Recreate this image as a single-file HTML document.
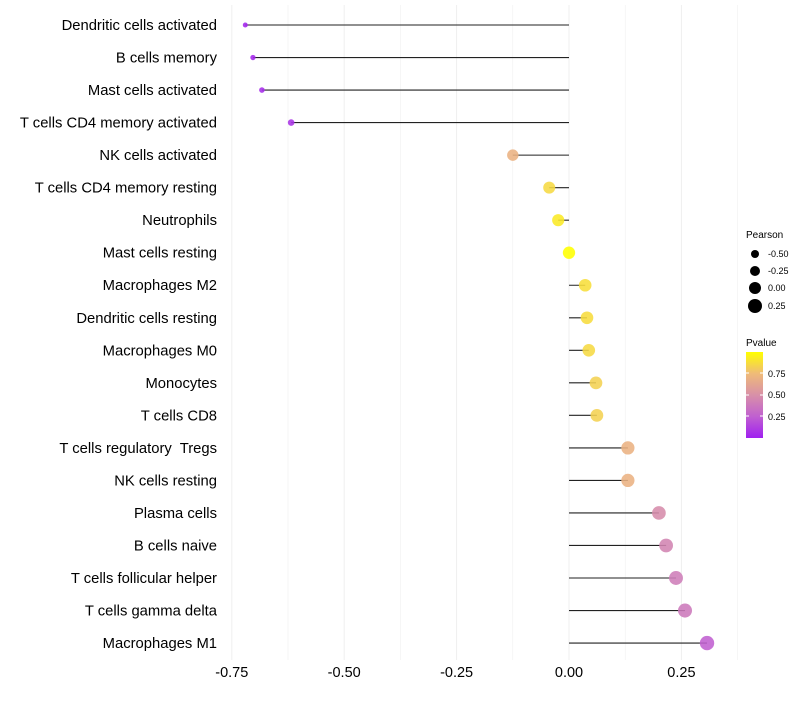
<!DOCTYPE html>
<html><head><meta charset="utf-8"><style>
body{margin:0;background:#fff;font-family:"Liberation Sans",sans-serif;}
</style></head><body>
<svg id="chart" width="800" height="700" xmlns="http://www.w3.org/2000/svg">
<defs><linearGradient id="pg" x1="0" y1="1" x2="0" y2="0">
<stop offset="0" stop-color="#a020f0"/><stop offset="0.25" stop-color="#c060d0"/><stop offset="0.5" stop-color="#d890a8"/><stop offset="0.75" stop-color="#efbb78"/><stop offset="1" stop-color="#ffff00"/></linearGradient></defs>
<g id="grid"></g><g id="marks"></g><g id="labels"></g>
<g font-size="9" fill="#000">
<text x="746" y="238" font-size="10">Pearson</text>
<circle cx="755" cy="254" r="4"/><text x="768" y="257">-0.50</text>
<circle cx="755" cy="271" r="5"/><text x="768" y="274">-0.25</text>
<circle cx="755" cy="288" r="6"/><text x="768" y="291">0.00</text>
<circle cx="755" cy="306" r="7"/><text x="768" y="309">0.25</text>
</g>
<g font-size="9">
<text x="746" y="346" font-size="10">Pvalue</text>
<rect x="746" y="352" width="17" height="86" fill="url(#pg)"/>
<line x1="746" y1="373" x2="749" y2="373" stroke="#fff"/><line x1="760" y1="373" x2="763" y2="373" stroke="#fff"/>
<line x1="746" y1="395" x2="749" y2="395" stroke="#fff"/><line x1="760" y1="395" x2="763" y2="395" stroke="#fff"/>
<line x1="746" y1="416" x2="749" y2="416" stroke="#fff"/><line x1="760" y1="416" x2="763" y2="416" stroke="#fff"/>
<text x="768" y="377">0.75</text><text x="768" y="398">0.50</text><text x="768" y="420">0.25</text>
</g>
</svg>
<script>
const categories=["Dendritic cells activated","B cells memory","Mast cells activated","T cells CD4 memory activated","NK cells activated","T cells CD4 memory resting","Neutrophils","Mast cells resting","Macrophages M2","Dendritic cells resting","Macrophages M0","Monocytes","T cells CD8","T cells regulatory  Tregs","NK cells resting","Plasma cells","B cells naive","T cells follicular helper","T cells gamma delta","Macrophages M1"];
const pearson=[-0.72,-0.703,-0.683,-0.618,-0.125,-0.044,-0.024,0.0,0.036,0.04,0.044,0.06,0.062,0.131,0.131,0.2,0.216,0.238,0.258,0.307];
const pvalue=[0.02,0.03,0.05,0.08,0.7,0.86,0.92,1.0,0.88,0.87,0.86,0.83,0.83,0.7,0.7,0.48,0.44,0.4,0.38,0.25];
const xTicks=[-0.75,-0.5,-0.25,0,0.25];
const xTickLabels=["-0.75","-0.50","-0.25","0.00","0.25"];
const NS="http://www.w3.org/2000/svg";
const x=v=>569+v*449.6;
const y=i=>25+i*32.53;
const rad=v=>Math.sqrt(Math.max(2,38+44*v));
function col(p){const s=[[0,[160,32,240]],[0.25,[192,96,208]],[0.5,[216,144,168]],[0.75,[239,187,120]],[1,[255,255,0]]];
for(let i=0;i<s.length-1;i++){if(p<=s[i+1][0]){const t=(p-s[i][0])/(s[i+1][0]-s[i][0]);return "rgb("+s[i][1].map((c,k)=>Math.round(c+(s[i+1][1][k]-c)*t)).join(",")+")";}}return "rgb(255,255,0)";}
function mk(t,a,p){const e=document.createElementNS(NS,t);for(const k in a)e.setAttribute(k,a[k]);p.appendChild(e);return e;}
const grid=document.getElementById('grid'),marks=document.getElementById('marks'),labels=document.getElementById('labels');
for(let v=-0.875;v<=0.376;v+=0.125){if(x(v)<215||x(v)>790)continue;
const g=mk('line',{x1:x(v),x2:x(v),y1:5,y2:660,stroke:'#efefef','stroke-width':Math.abs((v*4)%1)<1e-6?1:0.6},grid);

}
xTicks.forEach((v,i)=>{const t=mk('text',{x:x(v),y:677,'text-anchor':'middle','font-size':14.5,fill:'#000'},labels);t.textContent=xTickLabels[i];

});
categories.forEach((c,i)=>{
const t=mk('text',{x:217,y:y(i)+5,'text-anchor':'end','font-size':14.8,fill:'#000','white-space':'pre',style:'white-space:pre'},labels);t.textContent=c;


const l=mk('line',{x1:x(0),x2:x(pearson[i]),y1:y(i),y2:y(i),stroke:'#222','stroke-width':1.1},marks);


const p=mk('circle',{cx:x(pearson[i]),cy:y(i),r:rad(pearson[i]),fill:col(pvalue[i]),'fill-opacity':0.88},marks);

});
</script>
</body></html>
